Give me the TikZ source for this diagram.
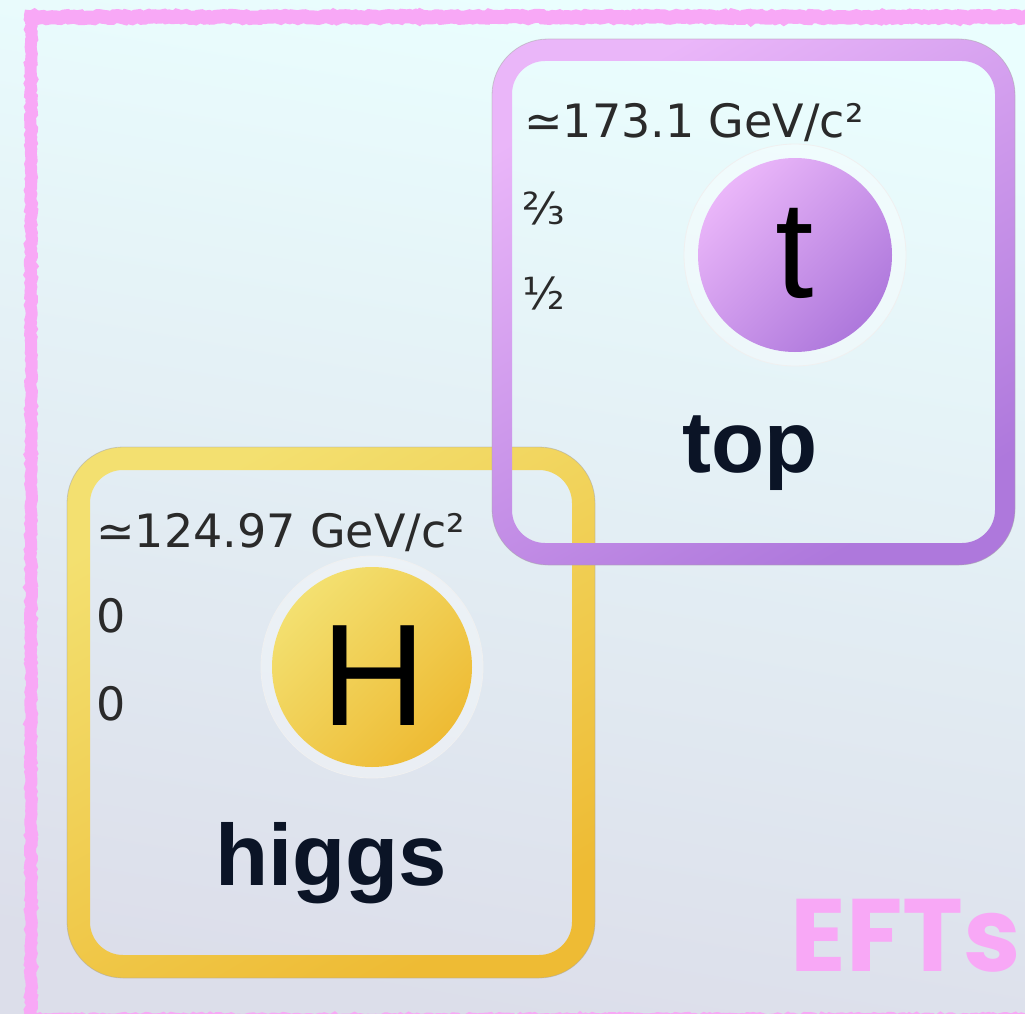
\documentclass[tikz,border=0pt]{standalone}
\usepackage{fontspec}
\usetikzlibrary{decorations.pathmorphing}
\newfontfamily\dvs{DejaVu Sans}
\newfontfamily\lib{Liberation Sans}
\newfontfamily\pop{Poppins}
\definecolor{bgtop}{HTML}{EAFEFE}
\definecolor{bgbot}{HTML}{DCDEEA}
\definecolor{pinkb}{HTML}{F8A8F6}
\definecolor{purL}{HTML}{EAB6F9}
\definecolor{purD}{HTML}{AE78DC}
\definecolor{yelL}{HTML}{F3E070}
\definecolor{yelD}{HTML}{EEBB34}
\definecolor{navy}{HTML}{0B1426}
\definecolor{smalltxt}{HTML}{2A2A2A}
\tikzset{
  smalllbl/.style={anchor=base west, inner sep=0pt, text=smalltxt, font=\dvs\fontsize{46}{50}\selectfont},
  fraclbl/.style={anchor=base west, inner sep=0pt, text=smalltxt, font=\dvs\fontsize{44}{46}\selectfont},
  biglbl/.style={anchor=base, inner sep=0pt, text=black, font=\lib\fontsize{145}{150}\selectfont},
  namelbl/.style={anchor=base, inner sep=0pt, text=navy, font=\lib\bfseries\fontsize{87}{90}\selectfont},
  halo/.style={fill=white, fill opacity=0.35, draw=black!6, line width=0.8pt},
  edge/.style={draw=black!35, draw opacity=0.5, line width=0.8pt},
  crayon/.style={pinkb, decorate, decoration={random steps, segment length=3pt, amplitude=1.1pt}},
}
\begin{document}
\begin{tikzpicture}[x=1pt,y=-1pt]
\useasboundingbox (0,0) rectangle (1025,1014);
% background
\shade[top color=bgtop, bottom color=bgbot, shading angle=-10] (0,0) rectangle (1025,1014);
% pink crayon border
\draw[crayon, line width=14pt] (25,17) -- (1030,17);
\draw[crayon, line width=12pt] (31,11) -- (31,1030);
\draw[crayon, line width=8pt] (25,1017) -- (1030,1017);
% higgs box
\shade[even odd rule, top color=yelL, bottom color=yelD, shading angle=30]
  [rounded corners=56pt] (67,447) rectangle (595,978)
  [rounded corners=33pt] (90,470) rectangle (572,955);
\path[edge, rounded corners=56pt] (67,447) rectangle (595,978);
\node[circle, halo, minimum size=222pt, inner sep=0pt] (hhalo) at (372,667) {};
\shade[top color=yelL, bottom color=yelD, shading angle=45] (372,667) circle (100pt);
\node[biglbl] (hsym) at (374,725) {H};
\node[smalllbl] (hmass) at (96,547) {≃124.97 GeV/c²};
\node[smalllbl] (hcharge) at (96,632) {0};
\node[smalllbl] (hspin) at (96,720) {0};
\node[namelbl] (hname) at (331,885) {higgs};
% top box
\shade[even odd rule, top color=purL, bottom color=purD, shading angle=30]
  [rounded corners=56pt] (492,39) rectangle (1015,565)
  [rounded corners=33pt] (512,61) rectangle (995,543);
\path[edge, rounded corners=56pt] (492,39) rectangle (1015,565);
\node[circle, halo, minimum size=222pt, inner sep=0pt] (thalo) at (795,255) {};
\shade[top color=purL, bottom color=purD, shading angle=45] (795,255) circle (97pt);
\node[biglbl, font=\lib\fontsize{138}{140}\selectfont] (tsym) at (795,297) {t};
\node[smalllbl] (tmass) at (524,138) {≃173.1 GeV/c²};
\node[fraclbl] (tcharge) at (522,224) {⅔};
\node[fraclbl] (tspin) at (522,309) {½};
\node[namelbl] (tname) at (750,472) {top};
% label
\node[anchor=base east, inner sep=0pt, text=pinkb, font=\pop\bfseries\fontsize{103}{105}\selectfont] (efts) at (1021,971) {EFTs};
\end{tikzpicture}
\end{document}
